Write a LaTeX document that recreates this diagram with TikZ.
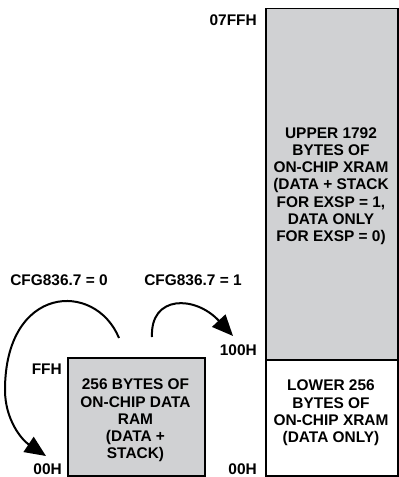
\documentclass[tikz,border=0pt]{standalone}
\usepackage{fontspec}
\setmainfont{Liberation Sans}
\usetikzlibrary{arrows.meta}
\definecolor{memgray}{RGB}{208,209,211}
\begin{document}
\begin{tikzpicture}[x=1bp,y=-1bp,
  every node/.style={font=\fontsize{15.5}{17.3}\selectfont\bfseries, inner sep=0pt},
  membox/.style={draw=black, line width=1.5bp, fill=memgray, anchor=north west},
  txt/.style={align=center},
  addr/.style={anchor=east},
  jump/.style={line width=2bp, -{Triangle[length=21bp,width=18bp]}}]
\useasboundingbox (0,0) rectangle (398,477);
% boxes
\node[membox, minimum width=132bp, minimum height=351bp] (upper) at (265,8) {};
\node[membox, fill=white, minimum width=132bp, minimum height=116bp] (lower) at (265,359) {};
\node[membox, minimum width=137bp, minimum height=118bp] (small) at (67,357) {};
% box texts
\node[txt] (uppertxt) at (331,186) {UPPER 1792\\BYTES OF\\ON-CHIP XRAM\\(DATA + STACK\\FOR EXSP = 1,\\DATA ONLY\\FOR EXSP = 0)};
\node[txt] (lowertxt) at (331,413) {LOWER 256\\BYTES OF\\ON-CHIP XRAM\\(DATA ONLY)};
\node[txt] (smalltxt) at (135.5,420.5) {256 BYTES OF\\ON-CHIP DATA\\RAM\\(DATA +\\STACK)};
% addresses
\node[addr] (a7ff) at (257,20) {07FFH};
\node[addr] (a100) at (257,350) {100H};
\node[addr] (a00r) at (257,469) {00H};
\node[addr] (affh) at (62,369) {FFH};
\node[addr] (a00l) at (62,469) {00H};
% conditions
\node (cfg0) at (59,280) {CFG836.7 = 0};
\node (cfg1) at (193,280) {CFG836.7 = 1};
% arrows
\coordinate (s0) at (119,338);
\coordinate (t0) at (46,456);
\coordinate (s1) at (152,337);
\coordinate (t1) at (233,336);
\draw[jump] (s0) .. controls (95,280) and (5,285) .. (5,390) .. controls (5,420) and (22,440) .. (t0);
\draw[jump] (s1) .. controls (150,295) and (195,295) .. (t1);
\end{tikzpicture}
\end{document}
